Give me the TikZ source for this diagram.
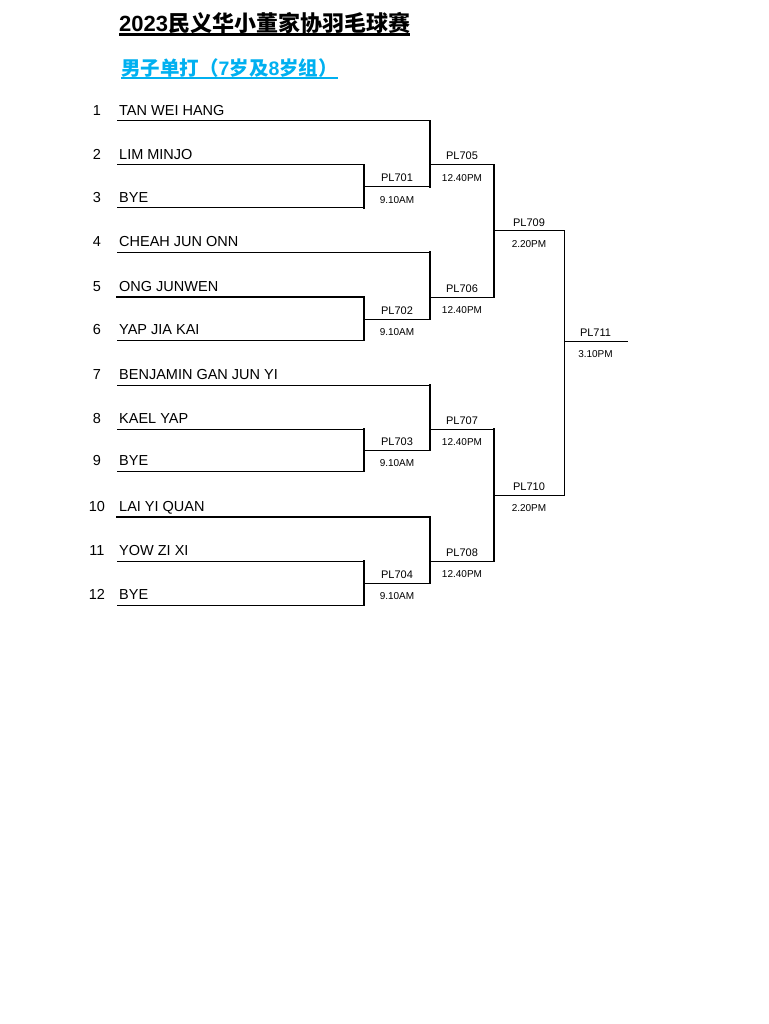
\documentclass[tikz,border=0pt]{standalone}
\usepackage{fontspec}
\setmainfont{Liberation Sans}
\newfontfamily\cjk{Noto Sans CJK SC}
\definecolor{skyblue}{HTML}{00B0F0}
\newcommand{\lat}[1]{{\rmfamily\bfseries #1}}
\begin{document}
\begin{tikzpicture}[x=1pt,y=-1pt,
  nm/.style={font=\fontsize{14.5}{17}\selectfont, inner sep=0, anchor=base west},
  num/.style={font=\fontsize{14.5}{17}\selectfont, inner sep=0, anchor=base},
  pl/.style={font=\fontsize{11}{13}\selectfont, inner sep=0, anchor=base},
  tm/.style={font=\fontsize{10}{12}\selectfont, inner sep=0, anchor=base},
  ln/.style={line width=1pt, line cap=rect},
  vl/.style={line width=1.6pt, line cap=rect},
  tk/.style={line width=2pt, line cap=rect}]
\useasboundingbox (0,0) rectangle (768,1024);

% title
\node[anchor=base west, inner sep=0, font=\cjk\bfseries\fontsize{22}{26}\selectfont] (title) at (119,31.5) {\lat{2023}民义华小董家协羽毛球赛};
\draw[line width=2.4pt] ([yshift=-3pt]title.base west) -- ([yshift=-3pt]title.base east);
\node[anchor=base west, inner sep=0, text=skyblue, font=\cjk\bfseries\fontsize{19.5}{23}\selectfont] (sub) at (121,75.5) {男子单打（\lat{7}岁及\lat{8}岁组）};
\draw[line width=1.5pt, skyblue] ([yshift=-2.5pt]sub.base west) -- ([yshift=-2.5pt]sub.base east);

% players
\foreach \i/\y/\t in {1/121/TAN WEI HANG, 2/165/LIM MINJO, 3/208/BYE,
  4/252/CHEAH JUN ONN, 5/297/ONG JUNWEN, 6/340/YAP JIA KAI,
  7/385/BENJAMIN GAN JUN YI, 8/429/KAEL YAP, 9/471/BYE,
  10/517/LAI YI QUAN, 11/561/YOW ZI XI, 12/605/BYE} {
  \node[num] (k\i) at (97,\y-5.5) {\i};
  \node[nm] (n\i) at (119,\y-5.5) {\t};
  \coordinate (s\i) at (117,\y);
}

% first round groups
\foreach \g/\a/\b/\c/\m/\q/\p/\r in {1/1/2/3/187/165/701/705, 2/4/5/6/319/297/702/706,
  3/7/8/9/450/429/703/707, 4/10/11/12/583/561/704/708} {
  \coordinate (m\g) at (364,\m);
  \coordinate (r\g) at (430,\m);
  \coordinate (q\g) at (430,\q);
  \coordinate (e\g) at (494,\q);
  \draw[ln] (s\b) -- (s\b -| m\g);
  \draw[ln] (s\c) -- (s\c -| m\g);
  \draw[vl] (s\b -| m\g) -- (s\c -| m\g);
  \draw[ln] (m\g) -- (r\g);
  \draw[ln] (s\a) -- (s\a -| r\g);
  \draw[vl] (s\a -| r\g) -- (r\g);
  \draw[ln] (q\g) -- (e\g);
  \node[pl] (P\p) at (397,\m-5) {PL\p};
  \node[tm] (T\p) at (397,\m+16.5) {9.10AM};
  \node[pl] (P\r) at (462,\q-5) {PL\r};
  \node[tm] (T\r) at (462,\q+16.5) {12.40PM};
}
\draw[tk] (s5) -- (s5 -| m2);
\draw[tk] (s10) -- (s10 -| r4);

% semi-finals
\coordinate (u1) at (494,231); \coordinate (w1) at (564,231);
\coordinate (u2) at (494,495); \coordinate (w2) at (564,495);
\coordinate (f0) at (564,341); \coordinate (f1) at (627,341);
\draw[tk] (e1) -- (e2);
\draw[tk] (e3) -- (e4);
\draw[ln] (u1) -- (w1);
\draw[ln] (u2) -- (w2);
\draw[ln] (w1) -- (w2);
\draw[ln] (f0) -- (f1);
\node[pl] (P709) at (529,226) {PL709};
\node[tm] (T709) at (529,247.5) {2.20PM};
\node[pl] (P710) at (529,490) {PL710};
\node[tm] (T710) at (529,511.5) {2.20PM};
\node[pl] (P711) at (595.5,336) {PL711};
\node[tm] (T711) at (595.5,357.5) {3.10PM};
\end{tikzpicture}
\end{document}
